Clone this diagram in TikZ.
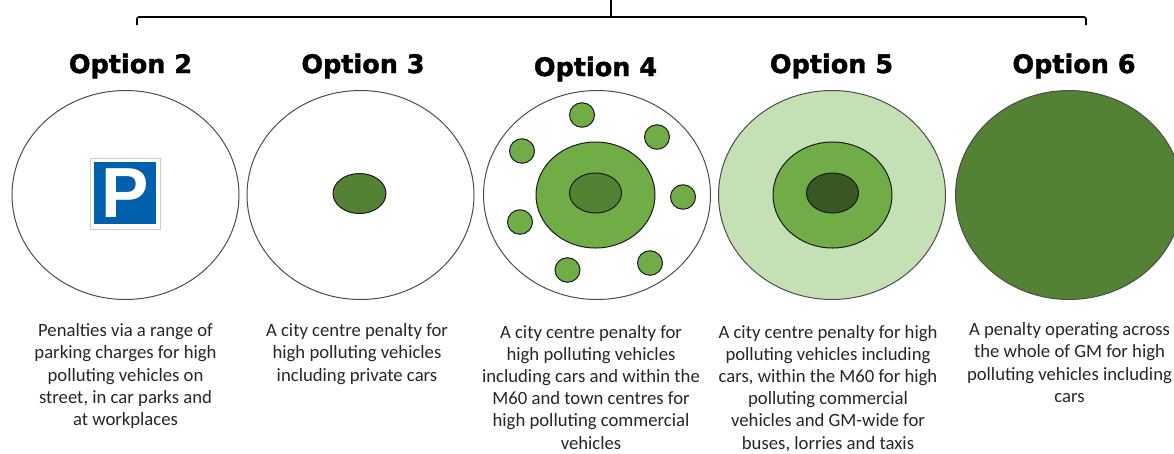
\documentclass[tikz,border=0pt]{standalone}
\usepackage{fontspec}
\usepackage{xcolor}
\setmainfont{Carlito}
\newfontfamily\titlefont[FakeBold=1.6]{DejaVu Sans Bold}
\newfontfamily\signfont{Liberation Sans Bold}
\usetikzlibrary{positioning,shapes}

\definecolor{zonedark}{HTML}{548235}
\definecolor{zonemid}{HTML}{70AD47}
\definecolor{zonelight}{HTML}{C5E0B4}
\definecolor{zonecore}{HTML}{385723}
\definecolor{signblue}{HTML}{0060AE}

\tikzset{
	bus/.style={draw=black, line width=1.6pt},
	title/.style={font=\titlefont\fontsize{25.5}{30}\selectfont, inner sep=0pt, text=black},
	desc/.style={font=\fontsize{18.7}{22.2}\selectfont, align=center, anchor=north, inner sep=0pt, text=black!85},
	outer/.style={ellipse, draw=black!70, line width=1pt, inner sep=0pt, minimum width=227pt, minimum height=209pt},
	middle/.style={ellipse, draw=black!90, line width=1pt, fill=zonemid, inner sep=0pt, minimum width=119pt, minimum height=106pt},
	core/.style={ellipse, draw=black!90, line width=1pt, inner sep=0pt, minimum width=52pt, minimum height=40pt},
	town/.style={ellipse, draw=black!90, line width=1pt, fill=zonemid, inner sep=0pt, minimum width=25pt, minimum height=24.5pt},
}

\begin{document}
\begin{tikzpicture}[x=1pt, y=-1pt]
	\clip (0, 0) rectangle (1174, 453);

	\coordinate (bustop) at (611, 0);
	\coordinate (busmid) at (611, 17);
	\coordinate (busleft) at (137, 25);
	\coordinate (busright) at (1086, 25);
	\draw[bus, rounded corners=2pt] (busleft) |- (busmid) -| (busright);
	\draw[bus] (bustop) -- (busmid);

	%%option 2%%
	\node[title] (title2) at (130.5, 66) {Option 2};
	\node[outer] (zone2) at (125.5, 195) {};
	\node[draw=black!20, fill=white, line width=0.8pt, inner sep=0pt, minimum width=70pt, minimum height=71pt] (signedge) at (125, 193.5) {};
	\node[fill=signblue, text=white, inner sep=0pt, minimum width=62pt, minimum height=62pt, font=\signfont\fontsize{71}{71}\selectfont] (signp) at (125, 193) {P};
	\node[desc] (text2) at (125.5, 323.5) {Penalties via a range of\\parking charges for high\\polluting vehicles on\\street, in car parks and\\at workplaces};

	%%option 3%%
	\node[title] (title3) at (363, 66) {Option 3};
	\node[outer] (zone3) at (360.5, 195) {};
	\node[core, fill=zonedark, minimum width=53pt] (core3) at (359.5, 193.5) {};
	\node[desc] (text3) at (357, 323.5) {A city centre penalty for\\high polluting vehicles\\including private cars};

	%%option 4%%
	\node[title] (title4) at (595.5, 69) {Option 4};
	\node[outer] (zone4) at (597, 195) {};
	\node[middle] (middle4) at (595.5, 195) {};
	\node[core, fill=zonedark] (core4) at (595.5, 193) {};
	\node[town] (town1) at (582, 115) {};
	\node[town] (town2) at (657, 137) {};
	\node[town] (town3) at (522, 151) {};
	\node[town] (town4) at (683, 197) {};
	\node[town] (town5) at (520, 222) {};
	\node[town] (town6) at (567.5, 270) {};
	\node[town] (town7) at (650, 263) {};
	\node[desc] (text4) at (591, 325) {A city centre penalty for\\high polluting vehicles\\including cars and within the\\M60 and town centres for\\high polluting commercial\\vehicles};

	%%option 5%%
	\node[title] (title5) at (831.5, 66) {Option 5};
	\node[outer, fill=zonelight] (zone5) at (832, 195) {};
	\node[middle] (middle5) at (832.5, 195) {};
	\node[core, fill=zonecore] (core5) at (832.5, 193) {};
	\node[desc] (text5) at (828, 325) {A city centre penalty for high\\polluting vehicles including\\cars, within the M60 for high\\polluting commercial\\vehicles and GM-wide for\\buses, lorries and taxis};

	%%option 6%%
	\node[title] (title6) at (1074, 66) {Option 6};
	\node[outer, fill=zonedark] (zone6) at (1069, 195) {};
	\node[desc] (text6) at (1069.5, 322.5) {A penalty operating across\\the whole of GM for high\\polluting vehicles including\\cars};
\end{tikzpicture}
\end{document}
